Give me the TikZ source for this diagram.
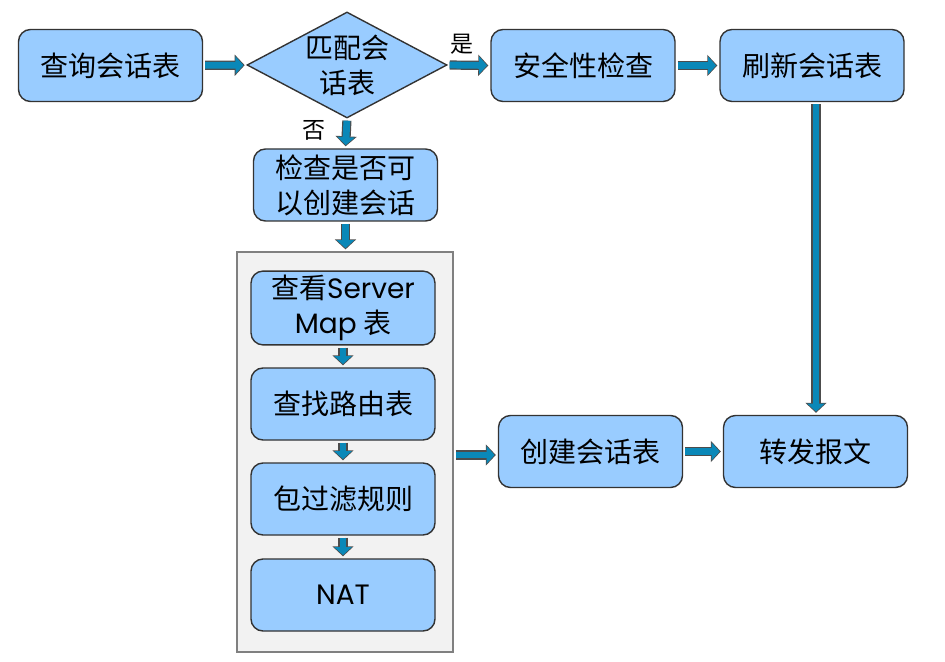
\documentclass[tikz,border=0pt]{standalone}
\usepackage{fontspec}
\setmainfont{Poppins}
\newfontfamily\cjk{Noto Sans CJK SC}
\usetikzlibrary{shapes.geometric,arrows.meta,calc}
\definecolor{boxblue}{HTML}{99CCFF}
\definecolor{flowblue}{HTML}{0A88B8}
\definecolor{panelgray}{HTML}{F2F2F2}
\tikzset{
  stepbox/.style={draw=black!80, fill=boxblue, rounded corners=6pt, line width=0.7pt,
    minimum width=92pt, minimum height=36pt, align=center, inner sep=2pt,
    font=\cjk\fontsize{14}{17.5}\selectfont},
  decide/.style={diamond, draw=black!80, fill=boxblue, line width=0.7pt, inner sep=0pt,
    minimum width=100pt, minimum height=53pt},
  decidetext/.style={align=center, font=\cjk\fontsize{14}{17.5}\selectfont},
  flow/.style={draw=flowblue, line width=3.4pt, -{Triangle[length=4pt,width=8.6pt]},
    shorten <=1pt, shorten >=1.6pt,
    preaction={draw=black!70, line width=4.6pt, -{Triangle[length=5pt,width=10.4pt]}, shorten >=1pt}},
  tag/.style={font=\cjk\fontsize{11.5}{13}\selectfont}
}
\begin{document}
\begin{tikzpicture}[x=0.5pt,y=-0.5pt]
\useasboundingbox (0,0) rectangle (945,662);
% panel behind the session check steps
\node[draw=black!50, fill=panelgray, line width=0.6pt, minimum width=108pt, minimum height=200pt] (panel) at (345,452) {};
% top row
\node[stepbox] (query) at (110.5,65.5) {查询会话表};
\node[decide, label={[decidetext]center:匹配会\\话表}] (match) at (347,65) {};
\node[stepbox] (secure) at (583,65.5) {安全性检查};
\node[stepbox] (refresh) at (812,65.5) {刷新会话表};
% no branch
\node[stepbox] (check) at (345.5,185) {检查是否可\\以创建会话};
\node[stepbox] (smap) at (343,308) {查看{\fontspec{Poppins}Server}\\{\fontspec{Poppins}Map} 表};
\node[stepbox] (route) at (343,404) {查找路由表};
\node[stepbox] (filter) at (343,499) {包过滤规则};
\node[stepbox, font=\fontspec{Poppins}\fontsize{14}{17.5}\selectfont] (nat) at (343,595) {NAT};
% bottom right
\node[stepbox] (create) at (590.5,451.5) {创建会话表};
\node[stepbox] (forward) at (815.5,451.5) {转发报文};
% labels
\node[tag] (yes) at (462,44) {是};
\node[tag] (no) at (314,130) {否};
% arrows
\draw[flow] (query) -- (match);
\draw[flow] (match.east) -- (secure.west);
\draw[flow] (secure) -- (refresh);
\draw[flow] (match.south) -- (check.north);
\draw[flow] (check.south) -- (panel.north -| check.south);
\draw[flow] (smap) -- (route);
\draw[flow] (route) -- (filter);
\draw[flow] (filter) -- (nat);
\draw[flow] (panel.east |- 0,455) -- (create.west |- 0,455);
\draw[flow] (create) -- (forward);
\draw[flow] (refresh.south -| 816,0) -- (forward.north -| 816,0);
\end{tikzpicture}
\end{document}
